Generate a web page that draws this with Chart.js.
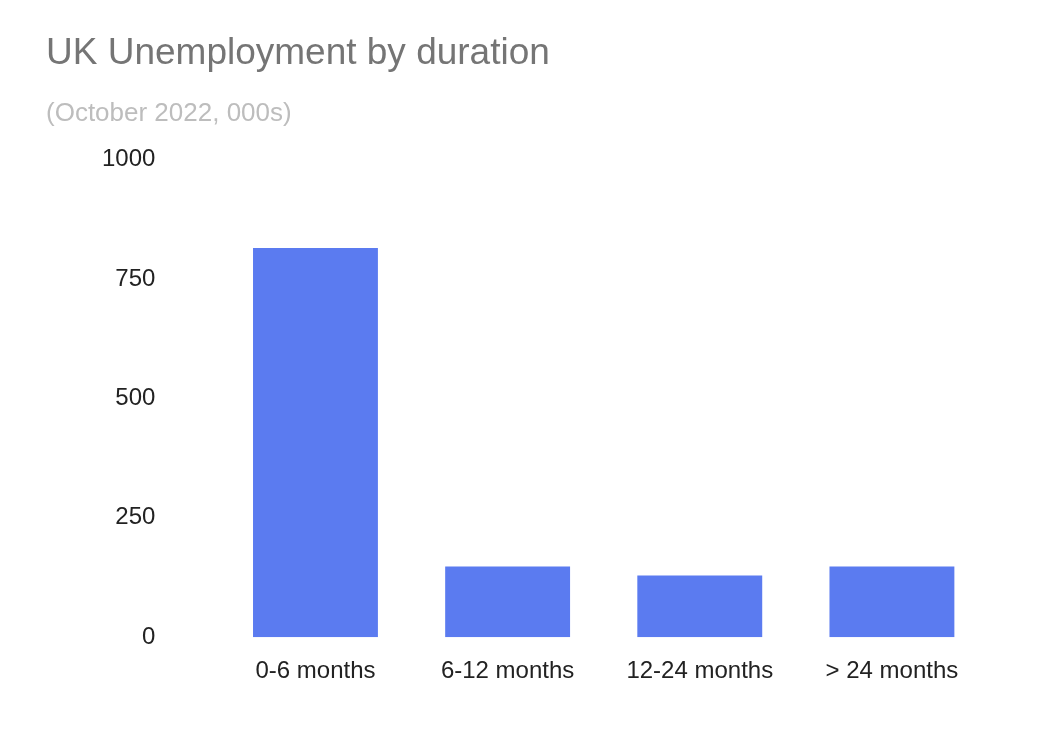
<!DOCTYPE html>
<html><head><meta charset="utf-8">
<script src="https://cdn.jsdelivr.net/npm/chart.js@4"></script>
<style>html,body{margin:0;background:#fff}#w{width:1042px;height:742px}</style>
</head><body><div id="w"><canvas id="c"></canvas></div>
<script>
const categories = ["0-6 months","6-12 months","12-24 months","> 24 months"];
const values = [815,148,129,148];
const yTicks = [0,250,500,750,1000];
Chart.defaults.font.family = "'Liberation Sans', Arial, sans-serif";
new Chart(document.getElementById('c'), {
  type: 'bar',
  data: { labels: categories, datasets: [{ data: values, backgroundColor: '#5b7bf0', categoryPercentage: 0.65, barPercentage: 1 }] },
  options: {
    responsive: true, maintainAspectRatio: false, animation: false,
    layout: { padding: { left: 46, right: 54, top: 32, bottom: 44 } },
    plugins: {
      legend: { display: false }, tooltip: { enabled: false },
      title: { display: true, text: 'UK Unemployment by duration', align: 'start', color: '#757575', font: { size: 37, weight: 'normal' }, padding: { top: 0, bottom: 22 } },
      subtitle: { display: true, text: '(October 2022, 000s)', align: 'start', color: '#bdbdbd', font: { size: 26 }, padding: { bottom: 30 } }
    },
    scales: {
      x: { grid: { display: false }, border: { display: false }, ticks: { color: '#222', font: { size: 24 }, padding: 12 } },
      y: { min: 0, max: 1000, afterBuildTicks: a => { a.ticks = yTicks.map(v => ({ value: v })); },
           grid: { display: false }, border: { display: false },
           ticks: { color: '#222', font: { size: 24 }, padding: 56, callback: v => String(v) } }
    }
  }
});
</script></body></html>
